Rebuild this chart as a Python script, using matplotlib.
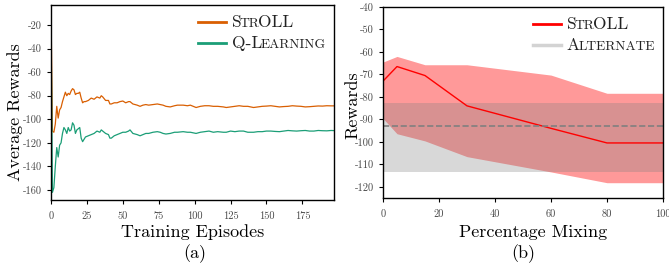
import numpy as np
import matplotlib
matplotlib.use('Agg')
import matplotlib.pyplot as plt
from matplotlib.lines import Line2D
from matplotlib.offsetbox import TextArea, HPacker, VPacker, DrawingArea, AnchoredOffsetbox

plt.rcParams['font.family'] = 'cmr10'
plt.rcParams['axes.unicode_minus'] = False
plt.rcParams['mathtext.fontset'] = 'cm'

# (a) average rewards vs training episodes
episodes = [0, 1, 2, 3, 4, 5, 6, 7, 8, 9, 10, 11, 12, 13, 14, 15, 16, 17, 18, 19, 20,
            21, 22, 23, 24, 26, 28, 30, 32, 34, 35, 36, 38, 40, 41, 42, 44, 46, 48, 50,
            52, 54, 55, 57, 60, 62, 64, 66, 68, 71, 74, 76, 78, 80, 83, 86, 88, 92, 95,
            97, 101, 104, 107, 110, 113, 116, 120, 122, 125, 128, 131, 134, 137, 141,
            144, 147, 150, 153, 156, 159, 162, 165, 168, 171, 174, 177, 180, 183, 186,
            189, 192, 195, 197]
stroll_avg = [-5, -110, -111, -104, -89, -99, -92, -90, -85, -81, -77, -80, -78, -79, -76,
              -74, -75, -79, -78, -78, -77, -82, -86, -85, -85, -84, -82, -83, -81, -82,
              -80, -81, -84, -84, -87, -87, -86, -86, -85, -84.5, -86, -85, -85, -87, -88,
              -89, -88, -87.5, -88, -87.5, -87, -87.5, -88, -89, -89.5, -88.5, -88, -88,
              -88.5, -88, -90, -89, -88.5, -88.5, -89, -89, -89.5, -90, -89.5, -89, -88.5,
              -89, -89, -90, -89.5, -89, -88.8, -88.5, -89, -89.5, -89.2, -89, -88.5, -88.8,
              -89, -89.5, -89.3, -89, -88.7, -88.8, -88.5, -88.6, -88.6]
qlearn_avg = [-14, -162, -158, -140, -124, -132, -122, -120, -112, -107, -109, -112, -107,
              -110, -109, -103, -105, -112, -109, -108, -107, -116, -119, -117, -115, -114,
              -113, -112, -110, -111, -109, -110, -112, -113, -116, -116, -114, -113, -112,
              -111, -111, -110, -109, -112, -113, -114, -113, -112, -112, -111, -110.5, -111,
              -112, -112.5, -112, -111, -111, -110.5, -111, -111, -112, -111, -110.5, -110,
              -111, -110.5, -111, -111, -110, -110.5, -110, -110, -111, -111, -110.5, -110.5,
              -110, -110, -110.3, -110.5, -110, -109.5, -109.8, -110, -109.7, -109.5, -110,
              -110, -109.5, -109.7, -109.8, -109.5, -109.6]

# (b) rewards vs percentage mixing
mixing = [0, 5, 15, 30, 60, 80, 100]
stroll_mean = [-73, -66.5, -70.5, -84, -94, -100.5, -100.5]
stroll_upper = [-64.5, -62, -65.7, -65.7, -70.3, -78.4, -78.4]
stroll_lower = [-89.6, -96.4, -99.6, -106.6, -113.4, -118.2, -118.2]
alt_mean = -93
alt_upper = -82.5
alt_lower = -113.5

tick_color = '#4a4a4a'


def smallcaps(parts, size):
    # parts: list of (text, big?) -> fake small caps with two sizes
    boxes = [TextArea(t, textprops=dict(fontsize=size if big else size * 0.78, color='#222222'))
             for t, big in parts]
    return HPacker(children=boxes, align='baseline', pad=0, sep=-1)


def add_legend(ax, entries, size=12.5):
    rows = []
    for color, lw, parts in entries:
        da = DrawingArea(20, 10, 0, 0)
        da.add_artist(Line2D([0, 20], [4, 4], color=color, lw=lw))
        rows.append(HPacker(children=[da, smallcaps(parts, size)], align='baseline', pad=0, sep=4))
    box = VPacker(children=rows, align='left', pad=0, sep=3)
    anch = AnchoredOffsetbox(loc='upper right', child=box, pad=0.3, borderpad=0.3, frameon=False)
    ax.add_artist(anch)


def style_ticks(ax):
    ax.tick_params(axis='both', labelsize=7.5, labelcolor=tick_color, length=3, width=0.8,
                   direction='out')
    ax.tick_params(axis='x', pad=5)
    for sp in ax.spines.values():
        sp.set_linewidth(1.0)


fig = plt.figure(figsize=(6.69, 2.69), dpi=100)

# panel (a)
ax1 = fig.add_axes([51 / 669, 69 / 269, 283 / 669, 195 / 269])
ax1.plot(episodes, stroll_avg, color='#d95f02', lw=0.9)
ax1.plot(episodes, qlearn_avg, color='#1b9e77', lw=0.9)
ax1.set_xlim(0, 197)
ax1.set_ylim(-168.5, -3)
ax1.set_xticks([0, 25, 50, 75, 100, 125, 150, 175])
ax1.set_yticks([-160, -140, -120, -100, -80, -60, -40, -20])
style_ticks(ax1)
add_legend(ax1, [('#d95f02', 2, [('S', True), ('TR', False), ('OLL', True)]),
                 ('#1b9e77', 2, [('Q-L', True), ('EARNING', False)])])

# panel (b)
ax2 = fig.add_axes([383 / 669, 71 / 269, 280 / 669, 191 / 269])
ax2.fill_between(mixing, stroll_lower, stroll_upper, color='red', alpha=0.4, lw=0)
ax2.fill_between([mixing[0], mixing[-1]], [alt_lower] * 2, [alt_upper] * 2,
                 color='gray', alpha=0.3, lw=0)
ax2.plot(mixing, stroll_mean, color='red', lw=1.0)
ax2.axhline(alt_mean, color='gray', ls='--', lw=1.2)
ax2.set_xlim(0, 100)
ax2.set_ylim(-125, -40)
ax2.set_xticks([0, 20, 40, 60, 80, 100])
ax2.set_yticks(np.arange(-120, -39, 10))
style_ticks(ax2)
add_legend(ax2, [('red', 2, [('S', True), ('TR', False), ('OLL', True)]),
                 ('lightgray', 2.5, [('A', True), ('LTERNATE', False)])])

# axis labels and captions
fig.text(15 / 669, 1 - 112 / 269, 'Average Rewards', rotation=90, ha='center', va='center',
         fontsize=13)
fig.text(193 / 669, 1 - 232 / 269, 'Training Episodes', ha='center', va='center', fontsize=13)
fig.text(195 / 669, 1 - 254 / 269, '(a)', ha='center', va='center', fontsize=13)
fig.text(353 / 669, 1 - 105 / 269, 'Rewards', rotation=90, ha='center', va='center', fontsize=13)
fig.text(533 / 669, 1 - 232 / 269, 'Percentage Mixing', ha='center', va='center', fontsize=13)
fig.text(523 / 669, 1 - 254 / 269, '(b)', ha='center', va='center', fontsize=13)

fig.savefig('out.png', dpi=100)
